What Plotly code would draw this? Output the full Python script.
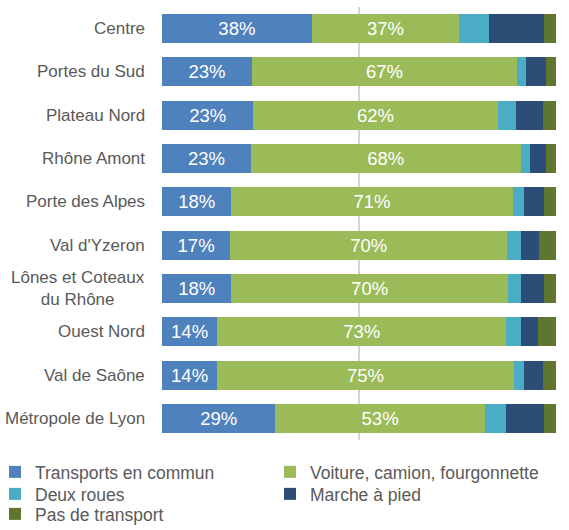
import plotly.graph_objects as go

categories = ["Centre", "Portes du Sud", "Plateau Nord", "Rhône Amont", "Porte des Alpes",
              "Val d'Yzeron", "Lônes et Coteaux<br>du Rhône", "Ouest Nord", "Val de Saône",
              "Métropole de Lyon"]

transports = [38.0, 22.8, 23.2, 22.6, 17.6, 17.3, 17.6, 14.0, 14.0, 28.8]
voiture = [37.4, 67.3, 62.0, 68.4, 71.4, 70.3, 70.2, 73.4, 75.3, 53.1]
deux_roues = [7.5, 2.4, 4.6, 2.4, 2.9, 3.4, 3.2, 3.6, 2.6, 5.3]
marche = [14.0, 5.0, 6.9, 4.1, 5.1, 4.8, 6.0, 4.4, 4.8, 9.8]
pas_transport = [3.1, 2.5, 3.3, 2.5, 3.0, 4.2, 3.0, 4.6, 3.3, 3.0]

# name, values, colour, show % label, legend row, legend column
series = [
    ("Transports en commun", transports, "#4f81bd", True, "legend", 0),
    ("Voiture, camion, fourgonnette", voiture, "#9bbb59", True, "legend", 1),
    ("Deux roues", deux_roues, "#4bacc6", False, "legend2", 0),
    ("Marche à pied", marche, "#2c4d75", False, "legend2", 1),
    ("Pas de transport", pas_transport, "#5f7530", False, "legend3", 0),
]

FONT = "Liberation Sans, Arial, sans-serif"
W, H = 569, 530
L, R, T, B = 162, 13, 7, 90
PW, PH = W - L - R, H - T - B

fig = go.Figure()
for name, vals, color, labelled, leg, col in series:
    fig.add_trace(go.Bar(
        y=categories, x=vals, name=name, orientation="h",
        marker=dict(color=color, line=dict(width=0)),
        texttemplate="%{x:.0f}%" if labelled else None,
        textposition="inside" if labelled else "none",
        insidetextanchor="middle",
        textangle=0,
        insidetextfont=dict(color="white", size=18.5, family=FONT),
        hoverinfo="skip",
        legend=leg,
        legendwidth=230 if col == 0 else 235,
    ))

# category labels as annotations so multi-line labels are centred
for cat in categories:
    fig.add_annotation(
        x=-0.038, xref="paper", y=cat, yref="y", text=cat,
        showarrow=False, xanchor="right", align="center",
        font=dict(size=17, color="#595959", family=FONT),
    )


def legend_row(ypix):
    return dict(
        orientation="h", xref="paper", yref="paper", traceorder="normal",
        x=(-5 - L) / PW, y=(H - B - ypix) / PH, xanchor="left", yanchor="middle",
        font=dict(size=17.5, color="#595959", family=FONT),
        bgcolor="rgba(0,0,0,0)", itemwidth=30,
    )


fig.update_layout(
    barmode="stack",
    bargap=0.33,
    width=W, height=H,
    margin=dict(l=L, r=R, t=T, b=B, autoexpand=False),
    plot_bgcolor="white", paper_bgcolor="white",
    font=dict(family=FONT, color="#595959"),
    legend=legend_row(472),
    legend2=legend_row(494),
    legend3=legend_row(514),
)
fig.update_xaxes(range=[0, 100], tickvals=[0, 50, 100], showticklabels=False,
                 showgrid=True, gridcolor="#d4d4d4", gridwidth=1.5, zeroline=False)
fig.update_yaxes(autorange="reversed", showticklabels=False, showgrid=False)

fig.write_html("out.html", config={"displayModeBar": False},
               post_script="document.body.style.margin='0px';")
